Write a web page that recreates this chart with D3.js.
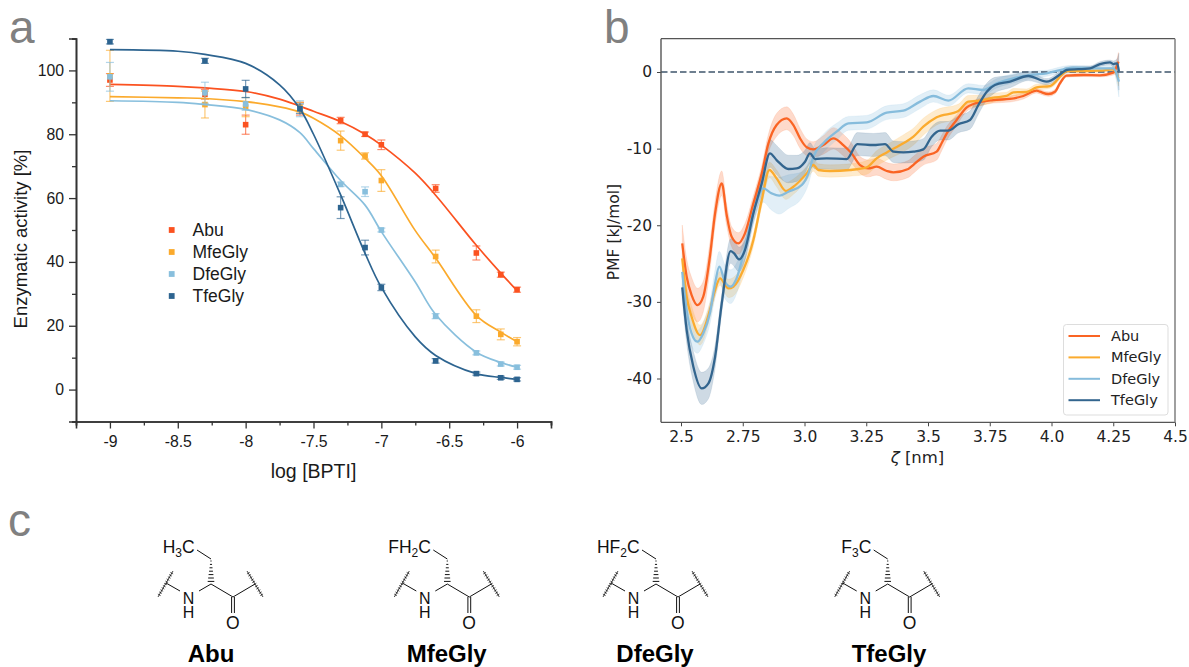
<!DOCTYPE html>
<html><head><meta charset="utf-8">
<script src="https://cdn.jsdelivr.net/npm/d3@7"></script>
<style>html,body{margin:0;padding:0;background:#fff}svg{display:block}</style>
</head><body><svg id="c" width="1189" height="667"></svg>
<script>
// ---------- DATA ----------
const names = ["Abu","MfeGly","DfeGly","TfeGly"];
const colorsA = ["#fb5220","#fbaa2c","#88bfdd","#2d6490"];
const colorsB = ["#fa6424","#fbab2e","#86bcdc","#33658e"];
const logConc = [-9,-8.3,-8,-7.6,-7.3,-7.12,-7,-6.6,-6.3,-6.12,-6];
const abuAct = [97,92.5,83,88,84.3,80,76.7,63,42.8,36,31.3];
const mfeAct = [98.3,89.3,88.5,88.5,78,73.2,65.5,41.7,23,17.3,15];
const dfeAct = [98,93,89.5,88,64.3,62,50,23,11.5,8,7];
const tfeAct = [109,103,94.2,88,57,44.5,32,9,5,3.7,3.2];
const abuErr = [2,1.5,3,2,1,.7,1.5,1.2,2.2,.8,.8];
const mfeErr = [8,4.2,3,1.5,3,1,3.4,2,2,1.7,1.3];
const dfeErr = [4.5,3.3,2,2.5,.7,1.5,.6,.8,.6,.6,.6];
const tfeErr = [.7,.8,2.7,1.5,3.4,2.3,1,.7,.5,.5,.5];
const fitLog = [-9,-8.5,-8.3,-8,-7.75,-7.6,-7.5,-7.3,-7.12,-7,-6.75,-6.6,-6.3,-6.12,-6];
const abuFit = [95.6,95,94.5,93.4,91,88.8,87.2,84,80,76.6,67.8,60.9,45.2,36.5,31];
const mfeFit = [91.8,91.4,91.2,90.2,88.6,87,85,79.5,72.5,67,49.8,41.2,23.2,18,15];
const dfeFit = [90.5,90,89.3,87.8,84.5,80.5,75.5,65.5,57.8,49.5,33.7,23.5,11.7,8.5,7];
const tfeFit = [106.5,106,105,102.2,95.5,88,80,61,42.7,32,16.5,10.7,5,3.8,3.2];

// zeta [nm], PMF [kJ/mol], uncertainty
const abuPmf = [[2.505,-22.37,2.4],[2.523,-26.72,2.3],[2.543,-29.11,2.3],[2.567,-30.42,2.2],[2.59,-29.33,2],[2.617,-24.1,1.8],[2.638,-18.45,1.6],[2.665,-14.53,1.6],[2.685,-18.67,1.4],[2.705,-21.5,1.3],[2.732,-22.37,1.4],[2.759,-21.06,1.3],[2.793,-17.15,1],[2.827,-13.23,1],[2.854,-9.31,1.2],[2.887,-6.92,1.5],[2.928,-6.05,1.5],[2.955,-6.92,1.4],[2.982,-8.66,1.3],[3.009,-9.83,1.1],[3.036,-10.1,1],[3.076,-9.53,1.2],[3.117,-8.66,1.4],[3.157,-9.53,1.4],[3.191,-10.62,1.3],[3.225,-12.14,1.1],[3.258,-12.58,1.1],[3.292,-12.36,1.1],[3.333,-12.92,1.1],[3.36,-13.1,1.1],[3.42,-12.66,1.1],[3.44,-12.14,1.1],[3.481,-11.05,1.1],[3.535,-10.4,1.1],[3.555,-9.3,1],[3.576,-8.01,.9],[3.616,-6.27,.7],[3.657,-4.61,.5],[3.684,-4.18,.5],[3.764,-3.66,.4],[3.832,-3.52,.4],[3.886,-3.13,.4],[3.94,-2.44,.3],[3.953,-2.57,.3],[3.987,-2.87,.3],[4.014,-2.57,.3],[4.034,-1.48,.3],[4.061,-.48,.2],[4.129,-.39,.2],[4.196,-.43,.2],[4.25,-.09,.3],[4.271,1.35,1.2]];
const mfePmf = [[2.505,-24.33,1.5],[2.523,-29.33,1.4],[2.543,-31.94,1.4],[2.577,-34.33,1.3],[2.617,-31.07,1],[2.638,-28.46,.9],[2.658,-26.94,.9],[2.692,-28.24,1.2],[2.712,-28.02,1.2],[2.752,-25.85,1],[2.793,-21.93,.8],[2.827,-16.71,.8],[2.858,-12.79,1],[2.887,-13.88,1.1],[2.925,-15.53,1.1],[2.955,-14.97,1],[3.009,-13.23,.9],[3.036,-12.14,.8],[3.056,-12.79,.8],[3.103,-12.92,.8],[3.184,-12.79,.8],[3.252,-12.45,.9],[3.292,-11.27,1],[3.333,-10.49,1],[3.4,-9.31,1.1],[3.441,-8.44,1.1],[3.481,-7.14,1.1],[3.535,-5.92,1],[3.623,-5.09,.9],[3.663,-3.87,.8],[3.711,-3.74,.7],[3.764,-3.35,.6],[3.818,-3.13,.5],[3.846,-2.65,.5],[3.899,-2.61,.4],[3.94,-2,.4],[3.994,-1.83,.3],[4.048,-.17,.3],[4.061,.13,.2],[4.129,.13,.2],[4.196,.17,.2],[4.25,.35,.3],[4.271,-.83,1]];
const dfePmf = [[2.505,-26.07,2],[2.523,-31.07,1.8],[2.543,-34.12,1.6],[2.566,-35.2,1.5],[2.59,-34.12,1.4],[2.617,-31.5,1.4],[2.638,-27.59,1.8],[2.655,-25.41,2],[2.678,-27.37,2.2],[2.701,-28.02,2.2],[2.725,-26.94,2],[2.766,-21.93,1.7],[2.8,-17.58,1.5],[2.833,-15.19,1.8],[2.867,-15.84,2.2],[2.898,-16.14,2.4],[2.935,-15.62,2.2],[2.989,-14.75,1.7],[3.016,-13.23,1.4],[3.036,-11.05,1.2],[3.076,-9.31,1.2],[3.13,-7.79,1.1],[3.178,-6.7,.9],[3.252,-6.57,.9],[3.333,-5.31,.9],[3.4,-5.05,.9],[3.468,-3.87,.9],[3.522,-3.13,.8],[3.582,-3.74,.7],[3.663,-2.13,.6],[3.724,-2.35,.6],[3.778,-1.48,.6],[3.845,-.83,.6],[3.913,-.39,.5],[3.98,-.17,.4],[4.048,.35,.4],[4.088,.57,.3],[4.156,.48,.3],[4.25,.48,.4],[4.273,-1.26,2]];
const tfePmf = [[2.505,-28.11,1.5],[2.523,-33.68,1.7],[2.55,-38.47,2],[2.584,-41.3,2.1],[2.611,-40.64,2],[2.638,-37.16,1.5],[2.665,-30.2,1.2],[2.701,-23.37,1.6],[2.715,-23.67,1.7],[2.735,-24.46,1.6],[2.759,-23.24,1.3],[2.793,-18.45,1.2],[2.827,-14.53,1.4],[2.86,-10.62,1.8],[2.887,-11.49,1.9],[2.935,-12.66,1.8],[2.968,-12.58,1.7],[3.002,-11.71,1.5],[3.022,-10.62,1.4],[3.043,-11.36,1.3],[3.09,-11.27,1.4],[3.171,-11.36,1.4],[3.214,-9.4,1.5],[3.279,-9.53,1.5],[3.326,-9.4,1.5],[3.36,-10.4,1.4],[3.4,-10.49,1.4],[3.441,-10.4,1.4],[3.481,-10.1,1.4],[3.515,-8.44,1.3],[3.549,-7.66,1.2],[3.582,-7.66,1.2],[3.623,-6.83,1.1],[3.67,-6.27,1.2],[3.704,-4.31,1.2],[3.738,-2.57,1.1],[3.771,-1.7,1],[3.832,-1.26,.8],[3.906,-.52,.6],[3.98,-1.26,.4],[4.041,-.17,.4],[4.061,.26,.4],[4.156,.48,.3],[4.196,1.04,.3],[4.237,1.26,.3],[4.25,1.04,.4],[4.266,1.13,.6],[4.273,.04,2.4]];

const acts=[abuAct,mfeAct,dfeAct,tfeAct], errs=[abuErr,mfeErr,dfeErr,tfeErr], fits=[abuFit,mfeFit,dfeFit,tfeFit], pmfs=[abuPmf,mfePmf,dfePmf,tfePmf];
const aYTicks=[0,20,40,60,80,100], aYMinor=[-10,10,30,50,70,90,110];
const aXTicks=[-9,-8.5,-8,-7.5,-7,-6.5,-6], aXMinor=[-9.25,-8.75,-8.25,-7.75,-7.25,-6.75,-6.25,-5.75];
const bXTicks=[2.5,2.75,3,3.25,3.5,3.75,4,4.25,4.5], bYTicks=[0,-10,-20,-30,-40];
const compounds=[
 {name:"Abu",pre:"H",sub:"3",post:"C",dx:0,cx:211},
 {name:"MfeGly",pre:"FH",sub:"2",post:"C",dx:236.3,cx:446.7},
 {name:"DfeGly",pre:"HF",sub:"2",post:"C",dx:445,cx:655},
 {name:"TfeGly",pre:"F",sub:"3",post:"C",dx:676.7,cx:889}];

// ---------- DRAW ----------
const svg=d3.select("#c");
const SANS="'Liberation Sans',Arial,sans-serif", DJ="'DejaVu Sans',sans-serif";
[["a",9,43],["b",604,43],["c",8,536]].forEach(d=>svg.append("text").attr("x",d[1]).attr("y",d[2]).attr("font-family",SANS).attr("font-size",46).attr("fill","#808080").text(d[0]));

// Panel a
const xA=d3.scaleLinear().domain([-9.25,-5.75]).range([76,551]);
const yA=d3.scaleLinear().domain([-10,110]).range([421.5,38.5]);
const a=svg.append("g");
function axisA(g,axis){g.call(axis);g.selectAll("path.domain").attr("stroke","#333").attr("stroke-width",1.6);g.selectAll("line").attr("stroke","#333").attr("stroke-width",1.3);g.selectAll("text").attr("font-family",SANS).attr("font-size",15.8).attr("fill","#1a1a1a");}
axisA(a.append("g").attr("transform","translate(0,421.5)"),d3.axisBottom(xA).tickValues(aXMinor).tickSize(4).tickFormat(""));
axisA(a.append("g").attr("transform","translate(0,421.5)"),d3.axisBottom(xA).tickValues(aXTicks).tickSize(7).tickPadding(7).tickFormat(d=>String(d)));
axisA(a.append("g").attr("transform","translate(76,0)"),d3.axisLeft(yA).tickValues(aYMinor).tickSize(4).tickFormat(""));
axisA(a.append("g").attr("transform","translate(76,0)"),d3.axisLeft(yA).tickValues(aYTicks).tickSize(7).tickPadding(5));
a.append("text").attr("x",313.5).attr("y",478).attr("text-anchor","middle").attr("font-family",SANS).attr("font-size",19.5).attr("fill","#1a1a1a").text("log [BPTI]");
a.append("text").attr("transform","translate(27,239) rotate(-90)").attr("text-anchor","middle").attr("font-family",SANS).attr("font-size",18.5).attr("fill","#1a1a1a").text("Enzymatic activity [%]");
const lineA=d3.line().x((d,i)=>xA(fitLog[i])).y(d=>yA(d)).curve(d3.curveCatmullRom.alpha(.5));
names.forEach((n,s)=>{
  const g=a.append("g").attr("class","s"+s);
  g.append("path").datum(fits[s]).attr("d",lineA).attr("fill","none").attr("stroke",colorsA[s]).attr("stroke-width",1.7);
  logConc.forEach((x,i)=>{
    const v=acts[s][i],e=errs[s][i],X=xA(x);
    const eg=g.append("g").attr("stroke",colorsA[s]).attr("stroke-opacity",.65).attr("stroke-width",1.2);
    eg.append("line").attr("x1",X).attr("x2",X).attr("y1",yA(v-e)).attr("y2",yA(v+e));
    [v-e,v+e].forEach(k=>eg.append("line").attr("x1",X-4).attr("x2",X+4).attr("y1",yA(k)).attr("y2",yA(k)));
    g.append("rect").attr("x",X-2.8).attr("y",yA(v)-2.8).attr("width",5.6).attr("height",5.6).attr("fill",colorsA[s]);
  });
  const ly=230+s*22;
  a.append("rect").attr("x",168.8).attr("y",ly-2.9).attr("width",5.8).attr("height",5.8).attr("fill",colorsA[s]);
  a.append("text").attr("x",192.5).attr("y",ly+5.5).attr("font-family",SANS).attr("font-size",17.5).attr("fill","#1a1a1a").text(n);
});

// Panel b
const xB=d3.scaleLinear().domain([2.5,4.5]).range([681,1175]);
const yB=d3.scaleLinear().domain([0,-40]).range([72,378.5]);
const b=svg.append("g");
const bandB=d3.area().x(d=>xB(d[0])).y0(d=>yB(d[1]-d[2])).y1(d=>yB(d[1]+d[2])).curve(d3.curveMonotoneX);
const lineB=d3.line().x(d=>xB(d[0])).y(d=>yB(d[1])).curve(d3.curveMonotoneX);
names.forEach((n,s)=>b.append("path").datum(pmfs[s]).attr("d",bandB).attr("fill",colorsB[s]).attr("fill-opacity",.24).attr("stroke",colorsB[s]).attr("stroke-opacity",.12));
b.append("line").attr("x1",661).attr("x2",1175).attr("y1",yB(0)).attr("y2",yB(0)).attr("stroke","#3f566c").attr("stroke-width",1.7).attr("stroke-dasharray","6.5,3");
names.forEach((n,s)=>b.append("path").datum(pmfs[s]).attr("d",lineB).attr("fill","none").attr("stroke",colorsB[s]).attr("stroke-width",2.3));
const gxB=b.append("g").attr("transform","translate(0,422.3)").call(d3.axisBottom(xB).tickValues(bXTicks).tickSize(4).tickPadding(5).tickFormat(d=>Number.isInteger(d*2)?d.toFixed(1):String(d)));
const gyB=b.append("g").attr("transform","translate(661,0)").call(d3.axisLeft(yB).tickValues(bYTicks).tickSize(4).tickPadding(5).tickFormat(d=>String(d)));
[gxB,gyB].forEach(g=>{g.select("path.domain").remove();g.selectAll("line").attr("stroke","#444").attr("stroke-width",1);g.selectAll("text").attr("font-family",DJ).attr("font-size",15.5).attr("fill","#222");});
b.append("line").attr("x1",661).attr("x2",1175).attr("y1",38.7).attr("y2",38.7).attr("stroke","#555").attr("stroke-width",1.2);
b.append("line").attr("x1",661).attr("x2",1175).attr("y1",422.3).attr("y2",422.3).attr("stroke","#555").attr("stroke-width",1.2);
b.append("line").attr("x1",661).attr("x2",661).attr("y1",38.7).attr("y2",422.3).attr("stroke","#555").attr("stroke-width",1.4);
b.append("line").attr("x1",1175).attr("x2",1175).attr("y1",38.7).attr("y2",422.3).attr("stroke","#888").attr("stroke-width",1.6);
b.append("text").attr("transform","translate(619,232) rotate(-90)").attr("text-anchor","middle").attr("font-family",DJ).attr("font-size",15.5).attr("fill","#222").text("PMF [kJ/mol]");
const zl=b.append("text").attr("x",917.5).attr("y",463).attr("text-anchor","middle").attr("font-family",DJ).attr("font-size",16.5).attr("fill","#222");
zl.append("tspan").attr("font-style","italic").text("ζ");zl.append("tspan").text(" [nm]");
b.append("rect").attr("x",1063.5).attr("y",324.5).attr("width",104.5).attr("height",90.5).attr("rx",3).attr("fill","#fff").attr("fill-opacity",.85).attr("stroke","#ddd");
names.forEach((n,s)=>{const ly=336+s*21.4;
  b.append("line").attr("x1",1068.5).attr("x2",1100).attr("y1",ly).attr("y2",ly).attr("stroke",colorsB[s]).attr("stroke-width",2);
  b.append("text").attr("x",1111).attr("y",ly+5).attr("font-family",DJ).attr("font-size",14.5).attr("fill","#222").text(n);
});

// Panel c: structural formulae
compounds.forEach(c=>{
  const g=svg.append("g").attr("transform",`translate(${c.dx},0)`);
  const bond=(x1,y1,x2,y2,w=1)=>g.append("line").attr("x1",x1).attr("y1",y1).attr("x2",x2).attr("y2",y2).attr("stroke","#111").attr("stroke-width",w);
  bond(197,550,211,559);bond(211,584,199,591);bond(180,591,166,583);bond(211,584,233,597);bond(233,597,255,584);
  bond(231.6,597,231.6,613);bond(234.4,597,234.4,613);
  d3.range(7).forEach(i=>{const y=561+i*3.4,w=.6+i*.45;bond(211-w,y,211+w,y,1);});
  [[158,597,173,571],[247,571,263,597]].forEach(q=>{
    bond(q[0],q[1],q[2],q[3],.8);
    d3.range(1,12).forEach(i=>{const t=i/12,x=q[0]+(q[2]-q[0])*t,y=q[1]+(q[3]-q[1])*t,nx=(q[3]-q[1])/30,ny=-(q[2]-q[0])/30;bond(x-nx*1.6,y-ny*1.6,x+nx*1.6,y+ny*1.6,.7);});
  });
  const t=(x,y,s,fs)=>g.append("text").attr("x",x).attr("y",y).attr("text-anchor","middle").attr("font-family",SANS).attr("font-size",fs).attr("fill","#111").text(s);
  t(188.5,604,"N",16);t(188.5,618,"H",16);t(232.8,628.5,"O",17.5);
  const lab=g.append("text").attr("x",194.6).attr("y",553).attr("text-anchor","end").attr("font-family",SANS).attr("font-size",17.5).attr("fill","#111");
  lab.append("tspan").text(c.pre);lab.append("tspan").attr("dy",4).attr("font-size",12).text(c.sub);lab.append("tspan").attr("dy",-4).text(c.post);
  svg.append("text").attr("x",c.cx).attr("y",661.5).attr("text-anchor","middle").attr("font-family",SANS).attr("font-weight",700).attr("font-size",24).attr("fill","#000").text(c.name);
});
</script></body></html>
